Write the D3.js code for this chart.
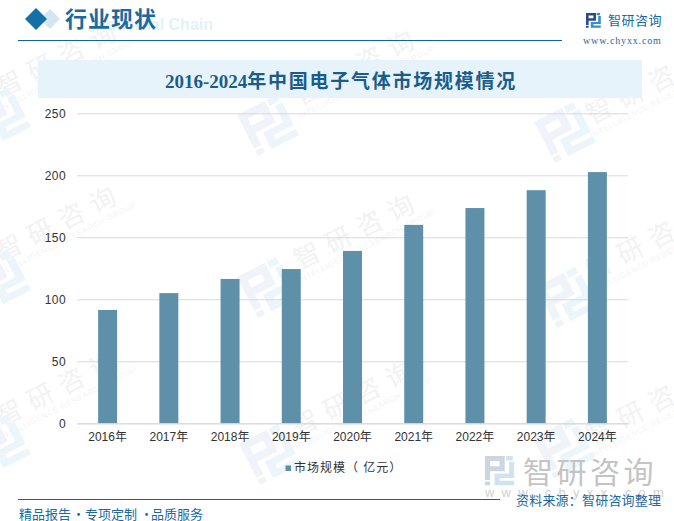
<!DOCTYPE html>
<html>
<head>
<meta charset="utf-8">
<script src="https://cdn.jsdelivr.net/npm/d3@7/dist/d3.min.js"></script>
<style>
html, body { margin: 0; padding: 0; background: #fff; }
svg { display: block; }
text { font-family: "Liberation Sans", "Noto Sans CJK SC", sans-serif; }
</style>
</head>
<body>
<svg id="chart" width="674" height="521"></svg>
<script>
// -------------------------
// Data
// -------------------------
const years = ["2016年", "2017年", "2018年", "2019年", "2020年", "2021年", "2022年", "2023年", "2024年"];
const marketSize = [91.4, 105, 116.4, 124.4, 139, 160, 173.6, 188, 202.6];
const yTicks = [0, 50, 100, 150, 200, 250];
const seriesName = "市场规模（ 亿元）";

// watermark anchors
const markTexts = [[60, 58], [358, 66], [650, 85], [60, 222], [358, 230], [650, 241], [60, 387], [356, 397], [650, 405]];
const markLogos = [[0, 117], [268, 125], [565, 132], [0, 280], [268, 287], [567, 297], [0, 444], [270, 454], [564, 448]];

const BLUE = "#1a6a9e";
const CJK = '"Noto Sans CJK SC"';
const SERIF = '"Liberation Serif", "DejaVu Serif", "Noto Sans CJK SC", serif';
const svg = d3.select("#chart");

// logo glyph in a 40x40 box
const LOGO_DARK = "M0 0H27V21H7V33H0Z M7 7V14H20V7Z M0 35H7V40H0Z";
const LOGO_LIGHT = "M29 0H38V6H29Z M33 8H40V30H20V34H40V40H13V24H33Z";

function drawLogo(parent, transform, dark, light) {
    const g = parent.append("g").attr("transform", transform);
    g.append("path").attr("d", LOGO_DARK).attr("fill", dark).attr("fill-rule", "evenodd");
    g.append("path").attr("d", LOGO_LIGHT).attr("fill", light);
}

// -------------------------
// Watermarks (behind everything)
// -------------------------
const wm = svg.append("g");
markTexts.forEach(([x, y]) => {
    const g = wm.append("g").attr("transform", `translate(${x},${y}) rotate(-27)`);
    g.append("text").attr("text-anchor", "middle").attr("y", 9)
        .attr("font-size", 26).attr("letter-spacing", 9).attr("fill", "#f2f2f2")
        .style("font-family", CJK).text("智研咨询");
    g.append("text").attr("text-anchor", "middle").attr("y", 21)
        .attr("font-size", 8).attr("letter-spacing", 0.6).attr("fill", "#f4f4f4")
        .text("INTELLIGENCE RESEARCH GROUP");
});
markLogos.forEach(([x, y]) => {
    drawLogo(wm, `translate(${x},${y}) rotate(-27) scale(1.15) translate(-20,-20)`, "#f0f3f8", "#ebf5fa");
});

// -------------------------
// Header
// -------------------------
wm.append("text").attr("x", 213).attr("y", 30).attr("text-anchor", "end")
    .attr("font-size", 16).attr("font-weight", "bold").attr("fill", "#e3f1fa").text("Industrial Chain");
svg.append("path").attr("d", "M50 9L60 19L50 29L40 19Z").attr("fill", "#d3e6f1");
svg.append("path").attr("d", "M36 8L47 19L36 30L25 19Z").attr("fill", "#1570a8");
svg.append("text").attr("x", 65).attr("y", 27).attr("font-size", 22).attr("font-weight", "bold")
    .attr("letter-spacing", 1).attr("fill", BLUE).style("font-family", SERIF).text("行业现状");
svg.append("line").attr("x1", 18).attr("x2", 562).attr("y1", 40.5).attr("y2", 40.5).attr("stroke", "#0f659f");

drawLogo(svg, "translate(586,13) scale(0.37)", "#2b4a8c", "#2f8fd0");
svg.append("text").attr("x", 608).attr("y", 25).attr("font-size", 13).attr("letter-spacing", 0.5)
    .attr("fill", BLUE).style("font-family", CJK).text("智研咨询");
svg.append("text").attr("x", 583).attr("y", 44).attr("font-size", 10).attr("letter-spacing", 0.85)
    .attr("fill", BLUE).style("font-family", SERIF).text("www.chyxx.com");

// -------------------------
// Title
// -------------------------
svg.append("rect").attr("x", 38).attr("y", 60).attr("width", 604).attr("height", 38).attr("fill", "#e6f3fb");
const title = svg.append("text").attr("x", 165).attr("y", 88)
    .attr("font-size", 19).attr("font-weight", "bold").attr("fill", "#1a5c8a")
    .style("font-family", SERIF);
title.append("tspan").text("2016-2024");
title.append("tspan").attr("letter-spacing", 1.75).text("年中国电子气体市场规模情况");

// -------------------------
// Chart
// -------------------------
const x = d3.scaleBand().domain(years).range([77, 628]).paddingInner(0.69).paddingOuter(0.345);
const y = d3.scaleLinear().domain([0, 250]).range([423.3, 113.3]);

const yAxis = svg.append("g").attr("transform", "translate(77,0)")
    .call(d3.axisLeft(y).tickValues(yTicks).tickSize(-551).tickPadding(11));
yAxis.select(".domain").remove();
yAxis.selectAll(".tick line").attr("stroke", "#d9d9d9");
yAxis.selectAll(".tick text").attr("font-size", 12).attr("letter-spacing", 0.4).attr("fill", "#333");

svg.append("g").selectAll("rect")
    .data(years)
    .enter()
    .append("rect")
    .attr("x", d => x(d))
    .attr("y", (d, i) => y(marketSize[i]))
    .attr("width", x.bandwidth())
    .attr("height", (d, i) => y(0) - y(marketSize[i]))
    .attr("fill", "#5e91a9");

const xAxis = svg.append("g").attr("transform", "translate(0,423.3)")
    .call(d3.axisBottom(x).tickSize(0).tickPadding(9));
xAxis.select(".domain").attr("stroke", "#d9d9d9");
xAxis.selectAll(".tick text").attr("font-size", 12).attr("fill", "#333");

// legend
svg.append("rect").attr("x", 285.5).attr("y", 465.5).attr("width", 5.5).attr("height", 5.5).attr("fill", "#5e91a9");
svg.append("text").attr("x", 294).attr("y", 472).attr("font-size", 12).attr("letter-spacing", 1)
    .attr("fill", "#333").text(seriesName);

// -------------------------
// Footer
// -------------------------
svg.append("line").attr("x1", 18).attr("x2", 500).attr("y1", 499.5).attr("y2", 499.5).attr("stroke", "#0f659f");
drawLogo(svg, "translate(485,456) scale(0.73)", "#cdd5e3", "#cfe3f1");
svg.append("text").attr("x", 523).attr("y", 483).attr("font-size", 30).attr("letter-spacing", 3.5)
    .attr("fill", "#c4c4c4").style("font-family", CJK).text("智研咨询");
svg.append("text").attr("x", 485).attr("y", 497).attr("font-size", 13).attr("letter-spacing", 7.2)
    .attr("fill", "#cfcfcf").text("www.chyxx.com");
svg.append("text").attr("x", 516).attr("y", 505).attr("font-size", 13).attr("letter-spacing", 0.2)
    .attr("fill", BLUE).style("font-family", CJK).text("资料来源：智研咨询整理");

const slogan = svg.append("text").attr("y", 519).attr("font-size", 13)
    .attr("fill", BLUE).style("font-family", CJK);
slogan.append("tspan").attr("x", 19).text("精品报告");
slogan.append("tspan").attr("x", 72).text("·");
slogan.append("tspan").attr("x", 85).text("专项定制");
slogan.append("tspan").attr("x", 140).text("·");
slogan.append("tspan").attr("x", 151).text("品质服务");
</script>
</body>
</html>
